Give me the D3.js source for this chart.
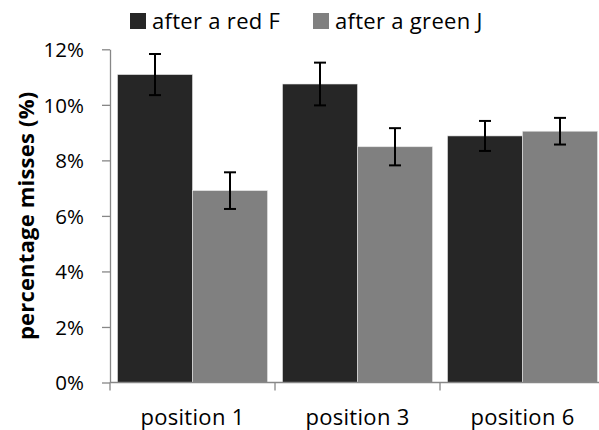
<!DOCTYPE html>
<html>
<head>
<meta charset="utf-8">
<script src="https://cdn.jsdelivr.net/npm/d3@7"></script>
<style>
  html, body { margin: 0; padding: 0; background: #fff; }
  svg { display: block; }
  text { font-family: "Open Sans", "Liberation Sans", sans-serif; fill: #000; }
</style>
</head>
<body>
<svg id="chart" width="599" height="430"></svg>
<script>
// Miss rates (%) per probe position, split by the preceding trial type
const categories = ["position 1", "position 3", "position 6"];
const seriesNames = ["after a red F", "after a green J"];
const afterRedF = [11.09, 10.75, 8.88];
const afterGreenJ = [6.91, 8.49, 9.05];
const errRedF = [0.74, 0.77, 0.54];
const errGreenJ = [0.66, 0.67, 0.48];
const yTicks = [0, 2, 4, 6, 8, 10, 12];
const colors = ["#262626", "#808080"];

const svg = d3.select("#chart");
const margin = { left: 110, top: 49.3, bottom: 47.5 };
const plotW = 495;
const H = 430;
const y0 = H - margin.bottom;

const x = d3.scaleBand().domain(categories).range([margin.left, margin.left + plotW]).paddingInner(0).paddingOuter(0);
const xSub = d3.scaleBand().domain(seriesNames).range([0, x.bandwidth()]).paddingInner(0).paddingOuter(0.1);
const y = d3.scaleLinear().domain([0, 12]).range([y0, margin.top]);

const series = [
  { name: seriesNames[0], values: afterRedF, errs: errRedF, color: colors[0] },
  { name: seriesNames[1], values: afterGreenJ, errs: errGreenJ, color: colors[1] }
];

// Bars
const groups = svg.append("g").selectAll("g").data(series).join("g");
groups.selectAll("rect")
  .data(s => s.values.map((v, i) => ({ cat: categories[i], v, e: s.errs[i], name: s.name, color: s.color })))
  .join("rect")
  .attr("x", d => x(d.cat) + xSub(d.name))
  .attr("y", d => y(d.v))
  .attr("width", xSub.bandwidth())
  .attr("height", d => y(0) - y(d.v))
  .attr("fill", d => d.color)
  .attr("stroke", "#e6e6e6")
  .attr("stroke-width", 0.6);

// Axes
const axisColor = "#878787";
const yAxis = svg.append("g")
  .attr("transform", `translate(${margin.left},0)`)
  .call(d3.axisLeft(y).tickValues(yTicks).tickSize(8).tickSizeOuter(0).tickFormat(d => d + "%"));
yAxis.select(".domain").attr("stroke", axisColor).attr("stroke-width", 1.3);
yAxis.selectAll(".tick line").attr("stroke", axisColor).attr("stroke-width", 1.3);
yAxis.selectAll(".tick text")
  .attr("x", -26)
  .attr("dy", "0.36em")
  .style("font-size", "20.5px")
  .attr("fill", "#000");

const xAxisG = svg.append("g").attr("transform", `translate(0,${y0})`);
xAxisG.append("line")
  .attr("x1", margin.left).attr("x2", margin.left + plotW)
  .attr("stroke", axisColor).attr("stroke-width", 1.3);
const bounds = categories.map(c => x(c)).concat([x(categories[categories.length - 1]) + x.bandwidth()]);
xAxisG.selectAll("line.tk").data(bounds).join("line").attr("class", "tk")
  .attr("x1", d => d).attr("x2", d => d).attr("y1", 0).attr("y2", 8)
  .attr("stroke", axisColor).attr("stroke-width", 1.3);
xAxisG.selectAll("text").data(categories).join("text")
  .attr("x", d => x(d) + x.bandwidth() / 2)
  .attr("y", 42)
  .attr("text-anchor", "middle")
  .style("font-size", "22px")
  .style("letter-spacing", "0.3px")
  .text(d => d);

// Error bars
const capHalf = 6;
const eb = svg.append("g").attr("stroke", "#000").attr("stroke-width", 2).attr("fill", "none");
series.forEach(s => {
  s.values.forEach((v, i) => {
    const cx = x(categories[i]) + xSub(s.name) + xSub.bandwidth() / 2;
    const top = y(v + s.errs[i]);
    const bot = y(v - s.errs[i]);
    eb.append("line").attr("x1", cx).attr("x2", cx).attr("y1", top).attr("y2", bot);
    eb.append("line").attr("x1", cx - capHalf).attr("x2", cx + capHalf).attr("y1", top).attr("y2", top);
    eb.append("line").attr("x1", cx - capHalf).attr("x2", cx + capHalf).attr("y1", bot).attr("y2", bot);
  });
});

// Y-axis title
svg.append("text")
  .attr("transform", `translate(34,${(y0 + margin.top) / 2}) rotate(-90)`)
  .attr("text-anchor", "middle")
  .style("font-size", "22px")
  .style("font-weight", "bold")
  .style("letter-spacing", "0.2px")
  .text("percentage misses (%)");

// Legend
const legendX = [130, 313];
const legend = svg.append("g");
series.forEach((s, i) => {
  legend.append("rect")
    .attr("x", legendX[i]).attr("y", 13)
    .attr("width", 16).attr("height", 16)
    .attr("fill", s.color);
  legend.append("text")
    .attr("x", legendX[i] + 22).attr("y", 29)
    .style("font-size", "22px")
    .style("letter-spacing", "0.3px")
    .text(s.name);
});
</script>
</body>
</html>
